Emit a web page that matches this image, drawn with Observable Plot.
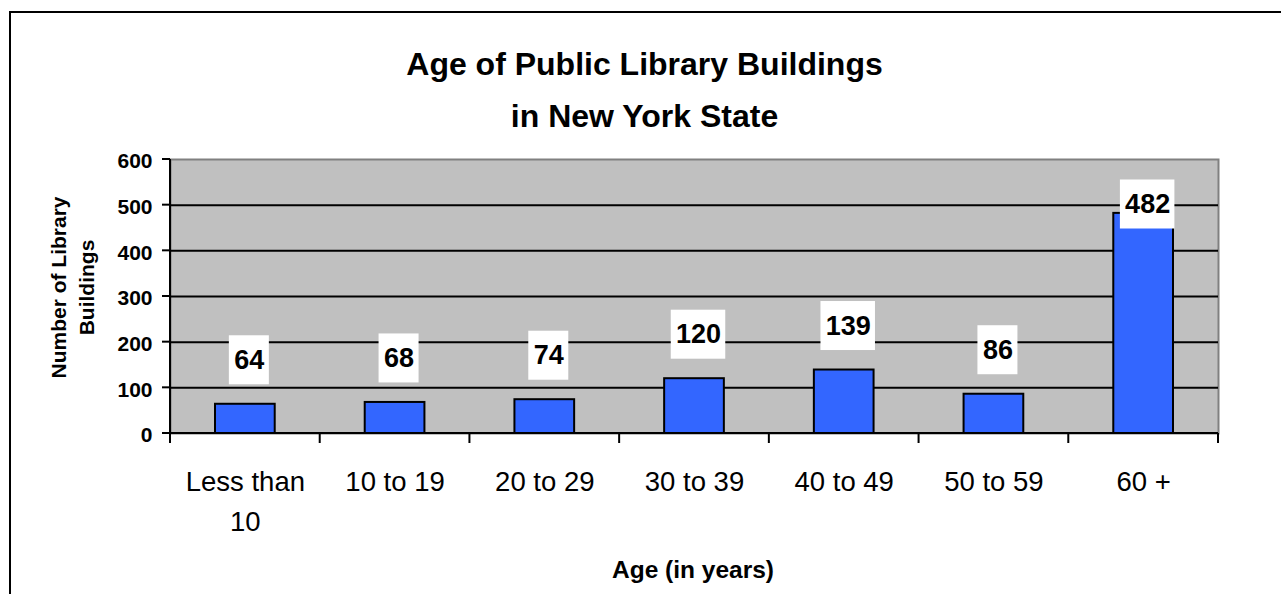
<!DOCTYPE html>
<html><head><meta charset="utf-8">
<script src="https://cdn.jsdelivr.net/npm/d3@7"></script>
<script src="https://cdn.jsdelivr.net/npm/@observablehq/plot@0.6"></script>
<style>
html,body{margin:0;padding:0;background:#fff;}
#wrap{position:relative;width:1281px;height:594px;overflow:hidden;}
#border{position:absolute;left:9px;top:11px;width:1400px;height:800px;border:2px solid #000;box-sizing:border-box;}
#chart{position:absolute;left:0;top:0;}
</style></head><body>
<div id="wrap"><div id="border"></div><div id="chart"></div></div>
<script>
const categories = ["Less than 10", "10 to 19", "20 to 29", "30 to 39", "40 to 49", "50 to 59", "60 +"];
const values = [64, 68, 74, 120, 139, 86, 482];
const tickLabels = ["Less than\n10", "10 to 19", "20 to 29", "30 to 39", "40 to 49", "50 to 59", "60 +"];
const yTicks = [0, 100, 200, 300, 400, 500, 600];
const title = "Age of Public Library Buildings\nin New York State";
const yTitle = "Number of Library\nBuildings";
const xTitle = "Age (in years)";

const W = 1281, H = 594, MT = 159, MB = 161, ML = 170, MR = 63;
const yMax = yTicks[yTicks.length - 1];
const ppu = (H - MT - MB) / yMax;
const SANS = "'Liberation Sans', Arial, Helvetica, sans-serif";

const data = categories.map((c, i) => ({
  cat: c,
  value: values[i],
  line1: tickLabels[i].split("\n")[0],
  line2: tickLabels[i].split("\n")[1] || "",
  labelY: Math.min(values[i] + 44 / ppu, yMax - 45 / ppu)
}));

function axesMark(index, scales, values_, dims) {
  const {x, y} = scales;
  const bw = x.bandwidth();
  const g = d3.create("svg:g").attr("stroke", "#000").attr("stroke-width", 2).attr("fill", "none");
  const x0 = dims.marginLeft, y0 = y(0);
  g.append("line").attr("x1", x0).attr("x2", x0).attr("y1", y(yMax)).attr("y2", y0 + 10);
  g.append("line").attr("x1", x0).attr("x2", dims.width - dims.marginRight).attr("y1", y0).attr("y2", y0);
  for (const t of yTicks) {
    g.append("line").attr("x1", x0 - 8).attr("x2", x0).attr("y1", y(t)).attr("y2", y(t));
  }
  const edges = categories.map(c => x(c)).concat([x(categories[categories.length - 1]) + bw]);
  for (const e of edges) {
    g.append("line").attr("x1", e).attr("x2", e).attr("y1", y0).attr("y2", y0 + 10);
  }
  return g.node();
}

function boxesMark(index, scales) {
  const {x, y} = scales;
  const bw = x.bandwidth();
  const g = d3.create("svg:g").attr("fill", "#fff");
  for (const d of data) {
    const w = String(d.value).length * 14.5 + 11, h = 49;
    const cx = x(d.cat) + bw / 2 + 4, cy = y(d.labelY);
    g.append("rect").attr("x", cx - w / 2).attr("y", cy - h / 2).attr("width", w).attr("height", h);
  }
  return g.node();
}

const chart = Plot.plot({
  width: W, height: H,
  marginTop: MT, marginBottom: MB, marginLeft: ML, marginRight: MR,
  style: {background: "transparent", fontFamily: SANS, overflow: "visible"},
  x: {type: "band", domain: categories, padding: 0, round: false, axis: null},
  y: {domain: [0, yMax], axis: null},
  marks: [
    Plot.frame({fill: "#C0C0C0", stroke: "#808080", strokeWidth: 2}),
    Plot.ruleY(yTicks.filter(t => t > 0 && t < yMax), {stroke: "#000", strokeWidth: 2}),
    Plot.barY(data, {x: "cat", y: "value", fill: "#3366FF", stroke: "#000", strokeWidth: 2, insetLeft: 45, insetRight: 45}),
    axesMark,
    boxesMark,
    Plot.text(data, {x: "cat", y: "labelY", text: d => String(d.value), dx: 4, fontSize: 27, fontWeight: "bold", fontFamily: SANS, fill: "#000", textAnchor: "middle", lineAnchor: "middle"}),
    Plot.text(yTicks, {y: d => d, text: d => String(d), frameAnchor: "left", textAnchor: "end", lineAnchor: "middle", dx: -18, dy: 2, fontSize: 21, fontWeight: "bold", fontFamily: SANS, fill: "#000"}),
    Plot.text(data, {x: "cat", text: "line1", frameAnchor: "bottom", textAnchor: "middle", lineAnchor: "bottom", dy: 57, fontSize: 27.5, fontFamily: SANS, fill: "#000"}),
    Plot.text(data, {x: "cat", text: "line2", frameAnchor: "bottom", textAnchor: "middle", lineAnchor: "bottom", dy: 97, fontSize: 27.5, fontFamily: SANS, fill: "#000"}),
    Plot.text([title], {text: d => d, frameAnchor: "top", textAnchor: "middle", lineAnchor: "bottom", dx: -50, dy: -33, lineHeight: 1.6, fontSize: 32, fontWeight: "bold", fontFamily: SANS, fill: "#000"}),
    Plot.text([yTitle], {text: d => d, frameAnchor: "left", textAnchor: "middle", lineAnchor: "bottom", rotate: -90, dx: -77, dy: -9, lineHeight: 1.3, fontSize: 21, fontWeight: "bold", fontFamily: SANS, fill: "#000"}),
    Plot.text([xTitle], {text: d => d, frameAnchor: "bottom", textAnchor: "middle", lineAnchor: "bottom", dx: -1.5, dy: 144, fontSize: 24.5, fontWeight: "bold", fontFamily: SANS, fill: "#000"})
  ]
});
document.getElementById("chart").appendChild(chart);
</script>
</body></html>
